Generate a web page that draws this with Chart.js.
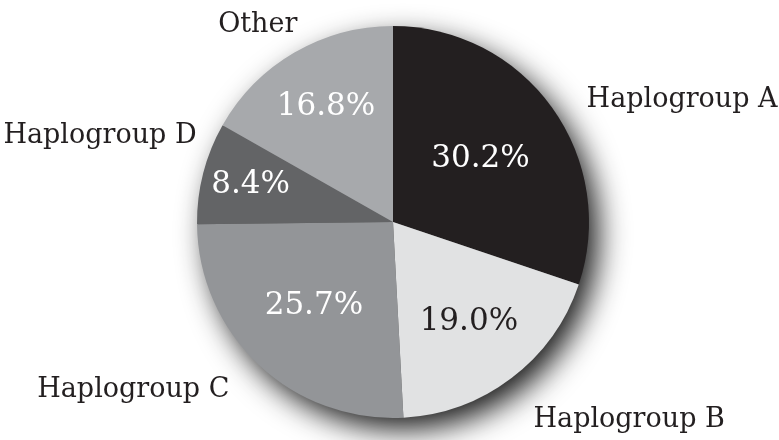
<!DOCTYPE html>
<html>
<head>
<meta charset="utf-8">
<script src="https://cdn.jsdelivr.net/npm/chart.js@4/dist/chart.umd.min.js"></script>
<style>
  html, body { margin: 0; padding: 0; background: #ffffff; }
  canvas { display: block; }
</style>
</head>
<body>
<canvas id="haplo" width="779" height="440"></canvas>
<script>
const groups = ["Haplogroup A", "Haplogroup B", "Haplogroup C", "Haplogroup D", "Other"];
const shares = [30.2, 19.0, 25.7, 8.4, 16.8];
const sliceColors = ["#231f20", "#e1e2e3", "#939598", "#636466", "#a7a9ac"];
const valueColors = ["#ffffff", "#231f20", "#ffffff", "#ffffff", "#ffffff"];

// where the percentages sit, as a fraction of the radius along each slice's middle
const valueDepth = [0.55, 0.64, 0.59, 0.75, 0.68];
// outer names, offset from the centre in radius units (baseline, centred text)
const nameSpots = [
  [1.475, -0.585],
  [1.205, 1.045],
  [-1.325, 0.895],
  [-1.495, -0.405],
  [-0.69, -0.97],
];

const dropShadow = {
  id: "dropShadow",
  beforeDatasetsDraw(chart) {
    const arc = chart.getDatasetMeta(0).data[0];
    if (!arc) return;
    const ctx = chart.ctx;
    ctx.save();
    ctx.shadowColor = "rgba(0,0,0,0.9)";
    ctx.shadowBlur = 30;
    ctx.shadowOffsetX = 10;
    ctx.shadowOffsetY = 12;
    ctx.fillStyle = "#666";
    ctx.beginPath();
    ctx.arc(arc.x, arc.y, arc.outerRadius - 1, 0, Math.PI * 2);
    ctx.fill();
    ctx.restore();
  },
};

const sliceText = {
  id: "sliceText",
  afterDatasetsDraw(chart) {
    const ctx = chart.ctx;
    const arcs = chart.getDatasetMeta(0).data;
    ctx.save();
    ctx.textAlign = "center";
    arcs.forEach((arc, i) => {
      const mid = (arc.startAngle + arc.endAngle) / 2;
      const r = arc.outerRadius;
      ctx.font = "31px 'DejaVu Serif'";
      ctx.fillStyle = valueColors[i];
      ctx.textBaseline = "middle";
      ctx.fillText(shares[i].toFixed(1) + "%",
        arc.x + Math.cos(mid) * r * valueDepth[i],
        arc.y + Math.sin(mid) * r * valueDepth[i]);

      ctx.font = "27px 'DejaVu Serif'";
      ctx.fillStyle = "#231f20";
      ctx.textBaseline = "alphabetic";
      ctx.fillText(groups[i],
        arc.x + nameSpots[i][0] * r,
        arc.y + nameSpots[i][1] * r);
    });
    ctx.restore();
  },
};

new Chart("haplo", {
  type: "pie",
  data: {
    labels: groups,
    datasets: [
      {
        data: shares,
        backgroundColor: sliceColors,
        borderWidth: 0,
      },
    ],
  },
  options: {
    responsive: false,
    animation: false,
    layout: {
      padding: { top: 26, bottom: 22, left: 197, right: 190 },
    },
    plugins: {
      legend: { display: false },
      tooltip: { enabled: false },
    },
  },
  plugins: [dropShadow, sliceText],
});
</script>
</body>
</html>
